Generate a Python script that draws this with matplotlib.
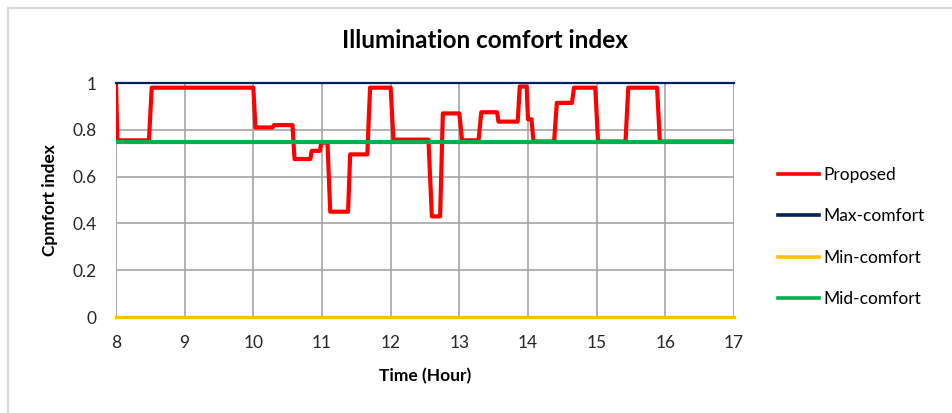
import matplotlib.pyplot as plt
import numpy as np

plt.rcParams['font.family'] = ['Lato', 'DejaVu Sans']

# red curve (hour, index)
hours = [8.0, 8.02, 8.48, 8.52, 10.0, 10.03, 10.28, 10.3, 10.57, 10.6, 10.83, 10.85,
         10.97, 10.99, 11.08, 11.12, 11.38, 11.41, 11.66, 11.7, 12.0, 12.04, 12.55,
         12.6, 12.72, 12.76, 13.0, 13.04, 13.28, 13.32, 13.55, 13.57, 13.85, 13.88,
         13.98, 14.0, 14.05, 14.08, 14.38, 14.42, 14.64, 14.67, 14.98, 15.02, 15.42,
         15.46, 15.88, 15.92, 17.0]
proposed = [1.0, 0.755, 0.755, 0.98, 0.98, 0.81, 0.81, 0.82, 0.82, 0.675, 0.675, 0.71,
            0.71, 0.745, 0.745, 0.45, 0.45, 0.695, 0.695, 0.98, 0.98, 0.758, 0.758,
            0.43, 0.43, 0.87, 0.87, 0.755, 0.755, 0.875, 0.875, 0.835, 0.835, 0.985,
            0.985, 0.845, 0.845, 0.75, 0.75, 0.915, 0.915, 0.98, 0.98, 0.75, 0.75,
            0.98, 0.98, 0.75, 0.75]

ref_hours = [8, 17]
max_comfort = [1, 1]
min_comfort = [0, 0]
mid_comfort = [0.75, 0.75]

x_ticks = list(range(8, 18))
y_ticks = [0, 0.2, 0.4, 0.6, 0.8, 1]
y_labels = ['0', '0.2', '0.4', '0.6', '0.8', '1']

fig = plt.figure(figsize=(9.52, 4.13), dpi=100)
ax = fig.add_axes([116/952, 1-317/413, (734-116)/952, (317-83)/413])

ax.plot(hours, proposed, color='#ff0000', lw=3, label='Proposed', zorder=3)
ax.plot(ref_hours, max_comfort, color='#002060', lw=1.6, label='Max-comfort',
        zorder=4, clip_on=False)
ax.plot(ref_hours, min_comfort, color='#ffc000', lw=2.4, label='Min-comfort',
        zorder=4, clip_on=False)
ax.plot(ref_hours, mid_comfort, color='#00b050', lw=3, label='Mid-comfort', zorder=4)

ax.set_xlim(8, 17)
ax.set_ylim(0, 1)
ax.set_xticks(x_ticks)
ax.set_yticks(y_ticks)
ax.set_yticklabels(y_labels)
ax.tick_params(length=0, labelsize=12.5, colors='#262626')
ax.tick_params(axis='y', pad=14)
ax.tick_params(axis='x', pad=13)
ax.grid(True, color='#a6a6a6', lw=1.2)
ax.set_axisbelow(True)
for s in ax.spines.values():
    s.set_visible(False)
ax.axvline(8, color='#a6a6a6', lw=1.2, zorder=1)
ax.axvline(17, color='#a6a6a6', lw=1.2, zorder=1)

ax.set_xlabel('Time (Hour)', fontsize=12.5, fontweight='bold', labelpad=12)
ax.set_ylabel('Cpmfort index', fontsize=12.5, fontweight='bold', labelpad=10)
fig.text(485/952, 1-40/413, 'Illumination comfort index', fontsize=17.5,
         fontweight='bold', ha='center', va='center')

leg = ax.legend(loc='center left', bbox_to_anchor=(762/952, 1-237/413),
                bbox_transform=fig.transFigure, frameon=False, fontsize=12.5,
                handlelength=2.4, handletextpad=0.25, labelspacing=1.45)
for h in leg.get_lines():
    h.set_linewidth(2.6)

# chart border (top and left only visible)
fig.add_artist(plt.Line2D([8/952, 1], [1-8/413, 1-8/413], color='#d9d9d9', lw=1.5))
fig.add_artist(plt.Line2D([8/952, 8/952], [0, 1-8/413], color='#d9d9d9', lw=1.5))

fig.savefig('out.png', dpi=100)
